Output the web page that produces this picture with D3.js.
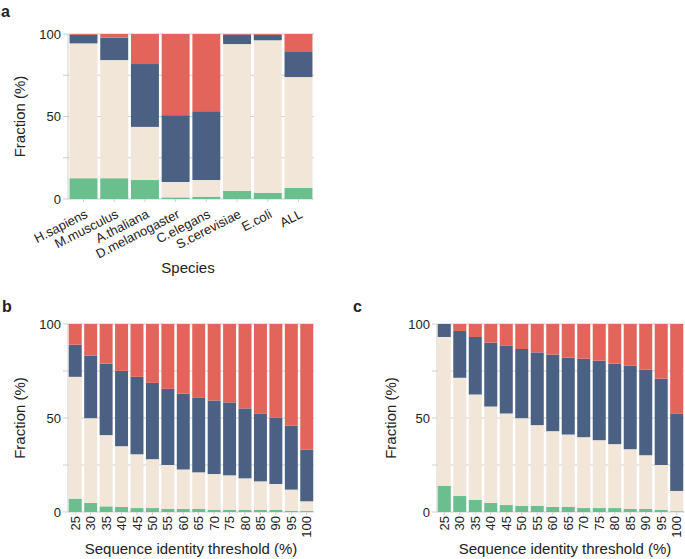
<!DOCTYPE html>
<html>
<head>
<meta charset="utf-8">
<script src="https://cdn.jsdelivr.net/npm/d3@7"></script>
<style>
body { margin: 0; background: #fff; }
text { font-family: "Liberation Sans", Arial, sans-serif; fill: #222; }
</style>
</head>
<body>
<script>
// segment keys, bottom to top
var keys = ['green', 'beige', 'blue', 'red'];
var colors = { green: '#6bbf8f', beige: '#f2e6d8', blue: '#4b6184', red: '#e3645a' };

// panel a: species
var species = ['H.sapiens', 'M.musculus', 'A.thaliana', 'D.melanogaster', 'C.elegans', 'S.cerevisiae', 'E.coli', 'ALL'];
var aGreen = [12.6, 12.6, 11.5, 1.0, 1.4, 4.9, 3.8, 6.7];
var aBeige = [81.7, 71.6, 32.2, 9.3, 10.1, 89.0, 92.4, 67.2];
var aBlue  = [5.2, 13.6, 38.1, 40.5, 41.7, 5.8, 3.3, 15.2];
var aRed   = [0.5, 2.2, 18.2, 49.2, 46.8, 0.3, 0.5, 10.9];

// panels b, c: sequence identity threshold
var thresholds = ['25', '30', '35', '40', '45', '50', '55', '60', '65', '70', '75', '80', '85', '90', '95', '100'];
var bGreen = [7.1, 4.8, 3.0, 2.7, 2.1, 2.1, 1.6, 1.6, 1.6, 1.2, 1.2, 1.1, 1.1, 1.1, 0.7, 0.5];
var bBeige = [64.8, 45.1, 37.9, 32.3, 28.6, 26.0, 23.4, 21.0, 19.5, 19.0, 18.3, 16.8, 15.2, 13.8, 11.2, 5.2];
var bBlue  = [17.1, 33.2, 38.0, 40.1, 41.2, 40.6, 40.5, 40.3, 39.6, 39.1, 38.8, 37.2, 35.9, 35.4, 34.1, 27.5];
var bRed   = [11.0, 16.9, 21.1, 24.9, 28.1, 31.3, 34.5, 37.1, 39.3, 40.7, 41.7, 44.9, 47.8, 49.7, 54.0, 66.8];

var cGreen = [14.0, 8.5, 6.4, 4.8, 3.7, 3.2, 3.2, 2.7, 2.7, 2.1, 2.1, 2.1, 1.6, 1.6, 1.1, 0.4];
var cBeige = [79.1, 62.9, 56.1, 51.3, 48.7, 46.7, 43.0, 40.3, 38.5, 37.7, 36.1, 34.0, 31.8, 28.6, 23.9, 10.8];
var cBlue  = [6.9, 24.9, 30.6, 34.0, 36.2, 36.8, 38.7, 40.7, 40.9, 41.7, 42.3, 42.8, 44.4, 45.5, 45.9, 41.0];
var cRed   = [0.0, 3.7, 6.9, 9.9, 11.4, 13.3, 15.1, 16.3, 17.9, 18.5, 19.5, 21.1, 22.2, 24.3, 29.1, 47.8];

var yTicks = [0, 25, 50, 75, 100];
var yLabels = [0, 50, 100];

var svg = d3.select("body").append("svg")
	.attr("width", 685)
	.attr("height", 559);

function rows(cats, g, be, bl, r) {
	return cats.map(function (c, i) {
		return { cat: c, green: g[i], beige: be[i], blue: bl[i], red: r[i] };
	});
}

function panel(opt) {
	var data = rows(opt.cats, opt.g, opt.be, opt.bl, opt.r);
	var x = d3.scaleBand().domain(opt.cats).range([opt.x0, opt.x1])
		.paddingInner(opt.pad).paddingOuter(0.05);
	var y = d3.scaleLinear().domain([0, 100]).range([opt.y0, opt.y1]);

	// grid + ticks
	var grid = svg.append("g");
	grid.selectAll("line.grid").data(yTicks).enter().append("line")
		.attr("x1", opt.x0 - 5).attr("x2", opt.x1)
		.attr("y1", function (d) { return y(d); })
		.attr("y2", function (d) { return y(d); })
		.attr("stroke", "#cfcfcf").attr("stroke-width", 1);
	grid.append("line")
		.attr("x1", opt.x0).attr("x2", opt.x0)
		.attr("y1", y(0)).attr("y2", y(100))
		.attr("stroke", "#cfcfcf");
	grid.selectAll("line.xt").data(x.domain()).enter().append("line")
		.attr("x1", function (d) { return x(d) + x.bandwidth() / 2; })
		.attr("x2", function (d) { return x(d) + x.bandwidth() / 2; })
		.attr("y1", y(0)).attr("y2", y(0) + 3)
		.attr("stroke", "#cfcfcf");

	var stack = d3.stack().keys(keys)(data);
	svg.append("g").selectAll("g").data(stack).enter().append("g")
		.attr("fill", function (d) { return colors[d.key]; })
		.selectAll("rect").data(function (d) { return d; }).enter().append("rect")
		.attr("x", function (d) { return x(d.data.cat); })
		.attr("width", x.bandwidth())
		.attr("y", function (d) { return y(d[1]); })
		.attr("height", function (d) { return Math.max(0, y(d[0]) - y(d[1])); });

	// y labels
	svg.append("g").selectAll("text").data(yLabels).enter().append("text")
		.attr("x", opt.x0 - 7)
		.attr("y", function (d) { return y(d); })
		.attr("dy", "0.35em")
		.attr("text-anchor", "end")
		.style("font-size", "13px")
		.text(function (d) { return d; });

	svg.append("text")
		.attr("transform", "translate(" + opt.ylx + "," + ((opt.y0 + opt.y1) / 2) + ") rotate(-90)")
		.attr("dy", "0.35em")
		.attr("text-anchor", "middle")
		.style("font-size", "15px")
		.text("Fraction (%)");

	// x labels
	var xl = svg.append("g").selectAll("text").data(opt.cats).enter().append("text")
		.style("font-size", "13px")
		.attr("text-anchor", "end")
		.text(function (d) { return d; });
	if (opt.angled) {
		xl.attr("transform", function (d) {
			return "translate(" + (x(d) + x.bandwidth() / 2 + 5) + "," + (y(0) + 18) + ") rotate(-27)";
		});
	} else {
		xl.attr("transform", function (d) {
			return "translate(" + (x(d) + x.bandwidth() / 2) + "," + (y(0) + 4) + ") rotate(-90)";
		}).attr("dy", "0.35em");
	}

	svg.append("text")
		.attr("x", opt.xlx)
		.attr("y", opt.xly)
		.attr("text-anchor", "middle")
		.style("font-size", "15px")
		.text(opt.xtitle);

	svg.append("text")
		.attr("x", opt.lx).attr("y", opt.ly)
		.style("font-size", "16px").style("font-weight", "bold")
		.text(opt.letter);
}

panel({ cats: species, g: aGreen, be: aBeige, bl: aBlue, r: aRed,
	x0: 68, x1: 314, y0: 199, y1: 34, pad: 0.09, angled: true,
	ylx: 20, xlx: 188, xly: 273, xtitle: "Species",
	letter: "a", lx: 1, ly: 17 });

panel({ cats: thresholds, g: bGreen, be: bBeige, bl: bBlue, r: bRed,
	x0: 68, x1: 314, y0: 512, y1: 324, pad: 0.16, angled: false,
	ylx: 20, xlx: 191, xly: 554, xtitle: "Sequence identity threshold (%)",
	letter: "b", lx: 2, ly: 312 });

panel({ cats: thresholds, g: cGreen, be: cBeige, bl: cBlue, r: cRed,
	x0: 437, x1: 684, y0: 512, y1: 324, pad: 0.16, angled: false,
	ylx: 391, xlx: 565, xly: 554, xtitle: "Sequence identity threshold (%)",
	letter: "c", lx: 353, ly: 312 });
</script>
</body>
</html>
